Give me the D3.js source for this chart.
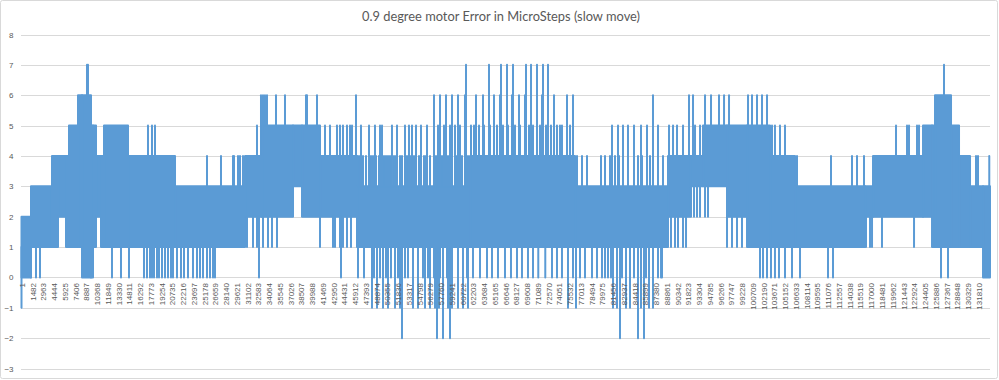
<!DOCTYPE html>
<html><head><meta charset="utf-8">
<script src="https://cdn.jsdelivr.net/npm/d3@7/dist/d3.min.js"></script>
<style>html,body{margin:0;padding:0;background:#fff;}svg{display:block;}</style>
</head><body>
<svg id="chart" width="999" height="380"></svg>
<script>
const chartTitle = "0.9 degree motor Error in MicroSteps (slow move)";
const sampleCount = 133400;
const yTicks = [-3,-2,-1,0,1,2,3,4,5,6,7,8];
const categoryLabels = [1,1482,2963,4444,5925,7406,8887,10368,11849,13330,14811,16292,17773,19254,20735,22216,23697,25178,26659,28140,29621,31102,32583,34064,35545,37026,38507,39988,41469,42950,44431,45912,47393,48874,50355,51836,53317,54798,56279,57760,59241,60722,62203,63684,65165,66646,68127,69608,71089,72570,74051,75532,77013,78494,79975,81456,82937,84418,85899,87380,88861,90342,91823,93304,94785,96266,97747,99228,100709,102190,103671,105152,106633,108114,109595,111076,112557,114038,115519,117000,118481,119962,121443,122924,124405,125886,127367,128848,130329,131810];

// dense oscillation bands: [first sample, last sample, low value, high value]
const bands = [
 [1,1310,0,2],[1310,4202,1,3],[4202,5029,1,4],[5029,6131,2,4],[6131,6544,1,4],
 [6544,7784,1,5],[7784,8335,1,6],[8335,9574,0,6],[9574,9850,0,5],[9850,10263,1,5],
 [10263,10952,2,4],[10952,11365,1,4],[11365,14671,1,5],[14671,21145,1,4],[21145,30786,1,3],
 [30786,33128,2,4],[33128,37398,2,5],[37398,38638,3,5],[38638,41117,2,5],[41117,46213,2,4],
 [46213,61778,1,3],[61778,76241,1,4],[76241,89050,1,3],[89050,92081,2,4],[92081,93871,3,4],[93871,97177,3,5],
 [97177,99932,2,5],[99932,103100,1,5],[103100,106543,1,4],[106543,116185,1,3],[116185,117287,2,3],
 [117287,124174,2,4],[124174,125414,2,5],[125414,125827,1,5],[125827,128031,1,6],[128031,129133,1,5],
 [129133,130648,1,4],[130648,132439,1,3],[132439,133400,0,3]
];

// single excursions: [low value, high value, samples where it occurs]
const excursions = [
 [-1,1,[1,48278,48967,49793,50482,51446,52135,53925,54614,55578,56267,56956,57507,58747,59298,60124,60813,61502,75275,76377,81473,82024,83264,83814,85330,86432,86982]],
 [-2,1,[52410,57231,58057,59022,82438,84917,85743]],
 [0,1,[1310,1997,2548,12465,13705,14807,16873,17286,17700,17975,18251,18664,18940,19353,19766,20179,20592,20867,21418,21969,22383,22934,23622,24173,24587,25000,25551,25964,26377,26652,46350,47176,
   48553,49380,50206,50894,51859,52823,53236,55303,55991,56818,57645,58608,61363,62189,63154,64118,64807,65632,66596,67422,68249,68937,69764,70454,71181,72145,73071,73758,74447,75964,76928,77615,78581,79268,79957,80371,80783,81199,82712,84366,86019,87672,88088,88223,
   101721,102135,102686,103234,103783,104336,105163,106128,107231,111088,111776,126652,127616]],
 [0,2,[32713,44008]],
 [1,2,[31060,31887,32438,33264,33953,34504,35192,41116,42905,43181,43869,44282,44834,45385,89461,90012,90426,91116,91530,97177,97864,98553,99241,116321,116875,117150,118523,122936]],
 [2,3,[92218,92632,93045,93459,94147,94559]],
 [3,4,[25551,27479,29132,29270,29821,30096,30509,
   46350,46625,47037,47450,48139,48415,48829,49241,49931,50206,50482,50758,51307,51582,52135,52410,53099,53651,54063,54751,55440,55716,56267,57094,57920,58747,59849,60675,61502,
   76515,77204,77892,79821,80371,81060,81748,82299,84917,85468,86570,88359,106817,111500,114392,115082,116046,131473,131749,133300]],
 [3,5,[46762,47866,48690,49380,49656,51031,51722,52823,53374,53788,54339,55027,55854,57369,58195,59022,59710,60399,
   81336,82162,82850,83538,84366,85330,86156,87672]],
 [3,6,[56818,57645,58471,59298,60124,61086,86982]],
 [3,7,[61226]],
 [4,5,[17424,17975,18388,32438,41804,42493,43456,43869,44282,44834,45248,45524,
   61914,62328,63017,63705,64530,65495,66321,67010,67975,68664,69903,70454,71418,72245,72932,73758,74172,74447,75552,89188,89739,90290,91116,92770,93459,103374,103783,104475,105163,120454,121969,122244,123346,123622]],
 [4,6,[32988,33264,46074,62603,63567,65082,65907,67560,68525,69350,71696,73347,75137,75964,91942,92493]],
 [4,7,[64393,66046,66873,67700,69490,70180,71004,71831,72520]],
 [5,6,[33539,33815,35055,36294,39187,39325,40702,94147,94973,96074,96767,97453,100070,100620,101308,101997,102686]],
 [6,7,[9022,9160,127065]]
];

const svg = d3.select("#chart");
const W = 999, H = 380;
const blue = "#5b9bd5", grid = "#d9d9d9", txt = "#595959";
const x = d3.scaleLinear().domain([1, sampleCount]).range([21.5, 990]);
const y = d3.scaleLinear().domain([-3, 8]).range([368.5, 34.5]);

svg.append("rect").attr("x",0.5).attr("y",0.5).attr("width",W-2).attr("height",H-2)
  .attr("fill","#fff").attr("stroke",grid).attr("rx",2);

svg.append("text").attr("x", 501).attr("y", 21).attr("text-anchor","middle")
  .attr("font-family","Lato, 'Open Sans', sans-serif").attr("font-size",13.5).attr("fill",txt)
  .attr("textLength",278).attr("lengthAdjust","spacingAndGlyphs").text(chartTitle);

// gridlines
svg.append("g").selectAll("line").data(yTicks).join("line")
  .attr("x1",21).attr("x2",990).attr("y1",d=>Math.round(y(d))+0.5).attr("y2",d=>Math.round(y(d))+0.5)
  .attr("stroke",grid).attr("stroke-width",1);

// y axis labels
const yAxis = d3.axisLeft(y).tickValues(yTicks).tickSize(0).tickPadding(0).tickFormat(d3.format("d"));
const yg = svg.append("g").attr("transform","translate(13.5,0)").call(yAxis);
yg.select(".domain").remove();
yg.selectAll("text").attr("font-family","'Liberation Sans', Arial, sans-serif").attr("font-size",8).attr("fill",txt);

// data
const g = svg.append("g");
g.selectAll("rect.band").data(bands).join("rect").attr("class","band")
  .attr("x", d=>x(d[0])).attr("width", d=>Math.max(0.5, x(d[1])-x(d[0])))
  .attr("y", d=>y(d[3])).attr("height", d=>y(d[2])-y(d[3]))
  .attr("fill", blue).attr("stroke", blue).attr("stroke-width", 2).attr("stroke-linejoin","round");

const strokeData = [];
excursions.forEach(([lo,hi,arr]) => arr.forEach(s => strokeData.push([s,lo,hi])));
g.selectAll("line.ex").data(strokeData).join("line").attr("class","ex")
  .attr("x1", d=>x(d[0])).attr("x2", d=>x(d[0]))
  .attr("y1", d=>y(d[1])).attr("y2", d=>y(d[2]))
  .attr("stroke", blue).attr("stroke-width", 2).attr("stroke-linecap","round");

// category axis at zero
const xAxisG = svg.append("g");
xAxisG.selectAll("text").data(categoryLabels).join("text")
  .attr("transform", d=>`translate(${x(d)+0.5},283) rotate(-90)`)
  .attr("text-anchor","end").attr("dy","0.35em")
  .attr("font-family","'Liberation Sans', Arial, sans-serif").attr("font-size",8).attr("fill",txt)
  .text(d=>d);
</script>
</body></html>
